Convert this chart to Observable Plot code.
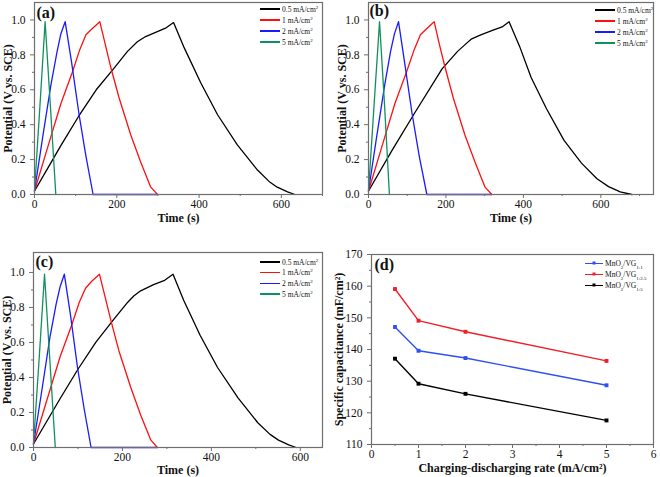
<!DOCTYPE html>
<html><head><meta charset="utf-8">
<script src="https://cdn.jsdelivr.net/npm/d3@7"></script>
<script src="https://cdn.jsdelivr.net/npm/@observablehq/plot@0.6"></script>
<style>
body{margin:0;background:#fff;}
#wrap{position:relative;width:660px;height:477px;overflow:hidden;font-family:'Liberation Serif',serif;}
.panel{position:absolute;}
.row{position:absolute;white-space:nowrap;display:flex;align-items:center;font-size:7.5px;color:#111;height:10px;}
.sw{display:inline-block;position:relative;height:1.4px;margin-right:2px;}
.sw i{position:absolute;width:3px;height:3px;left:50%;top:50%;transform:translate(-50%,-50%);}
sup,sub{font-size:5px;line-height:0;}
</style></head><body><div id="wrap"></div><script>
// ---- Data ----
const rates = ["0.5", "1", "2", "5"];
const gcdColors = ["#000000", "#ff1010", "#1a1aff", "#10905e"];

// Panel (a): [time (s), potential (V)]
const a_05 = [[0,0.02],[32,0.15],[64,0.28],[107,0.447],[150,0.60],[192,0.72],[226,0.82],[250,0.875],[270,0.905],[300,0.935],[320,0.955],[338,0.985],[364,0.84],[404,0.64],[445,0.457],[493,0.284],[542,0.14],[570,0.075],[590,0.042],[615,0.015],[633,0]];
const a_1 = [[0,0.02],[32,0.27],[64,0.52],[92,0.70],[110,0.83],[125,0.915],[140,0.95],[158.7,0.99],[172,0.86],[185.7,0.726],[205.7,0.553],[234,0.341],[258,0.186],[282.6,0.042],[299,0]];
const a_2 = [[0,0.02],[20,0.33],[40,0.63],[55,0.82],[64,0.92],[74.5,0.99],[90,0.76],[108.4,0.457],[125,0.22],[142.4,0],[299,0]];
const a_5 = [[0,0.02],[13,0.5],[25.8,0.99],[38,0.53],[51.8,0]];

// Panel (b)
const b_05 = [[0,0.02],[60,0.25],[120,0.47],[190,0.72],[230,0.82],[250,0.86],[265,0.89],[290,0.915],[320,0.94],[345,0.96],[363,0.99],[390,0.85],[420,0.67],[460,0.49],[505,0.31],[550,0.18],[590,0.09],[620,0.045],[650,0.015],[680,0]];
const b_1 = [[0,0.02],[34,0.27],[68,0.52],[98,0.70],[118,0.83],[134,0.915],[150,0.95],[169.6,0.99],[183,0.86],[198,0.726],[219,0.553],[249,0.341],[275,0.186],[301,0.042],[318.5,0]];
const b_2 = [[0,0.02],[21,0.33],[42,0.63],[57,0.82],[67,0.92],[77.5,0.99],[93,0.76],[113,0.457],[131,0.22],[150.7,0],[318,0]];
const b_5 = [[0,0.02],[14,0.5],[28.5,0.99],[41,0.53],[54,0]];

// Panel (c)
const c_05 = [[0,0.02],[60,0.28],[100,0.447],[140,0.60],[180,0.73],[212,0.83],[226,0.867],[241,0.895],[270,0.93],[295,0.955],[313.8,0.99],[338,0.84],[375,0.64],[414,0.457],[460,0.284],[505,0.14],[532,0.075],[551,0.042],[574,0.015],[590.7,0]];
const c_1 = [[0,0.02],[30,0.27],[60,0.52],[86,0.70],[103,0.83],[117,0.91],[131,0.95],[148.3,0.99],[161,0.86],[174,0.726],[192,0.553],[219,0.341],[241,0.186],[264,0.042],[278.5,0]];
const c_2 = [[0,0.02],[19,0.33],[37,0.63],[51,0.82],[60,0.92],[69.3,0.99],[83,0.76],[99,0.457],[114,0.22],[129.5,0],[278,0]];
const c_5 = [[0,0.02],[12.5,0.5],[24.8,0.99],[36,0.53],[49,0]];

// Panel (d)
const dRates = [0.5, 1, 2, 5];
const d_11 = [147.1, 139.6, 137.3, 128.7];
const d_125 = [159.1, 149.1, 145.6, 136.4];
const d_15 = [137.1, 129.2, 126.0, 117.6];
const dNames = ["1:1", "1:2.5", "1:5"];
const dColors = ["#3050f0", "#f0202a", "#000000"];

// Ticks
const timeTicks = [0, 200, 400, 600];
const vTicks = [0, 0.2, 0.4, 0.6, 0.8, 1.0];
const vMinor = [0.1, 0.3, 0.5, 0.7, 0.9];
const dXTicks = [0, 1, 2, 3, 4, 5, 6];
const dXMinor = [0.5, 1.5, 2.5, 3.5, 4.5, 5.5];
const dYTicks = [110, 120, 130, 140, 150, 160, 170];
const dYMinor = [115, 125, 135, 145, 155, 165];

// ---- Rendering ----
const wrap = document.getElementById("wrap");
const FONT = "'Liberation Serif', 'Times New Roman', serif";
const FRAME = "#6e6e6e";

function place(node, left, top) {
  const d = document.createElement("div");
  d.className = "panel";
  d.style.left = left + "px"; d.style.top = top + "px";
  d.appendChild(node);
  wrap.appendChild(d);
}

function legend(items, left, tops, lineW, withDot) {
  items.forEach((it, i) => {
    const r = document.createElement("div");
    r.className = "row";
    r.style.left = left + "px";
    r.style.top = (tops[i] - 5) + "px";
    const sw = document.createElement("span");
    sw.className = "sw";
    sw.style.width = lineW + "px";
    sw.style.background = it.color;
    if (withDot) { const dot = document.createElement("i"); dot.style.background = it.color; sw.appendChild(dot); }
    r.appendChild(sw);
    const t = document.createElement("span");
    t.innerHTML = it.html;
    r.appendChild(t);
    wrap.appendChild(r);
  });
}

function gcdPanel(cfg) {
  const rows = cfg.series.flatMap((s, i) => s.map(([t, v]) => ({t, v, rate: rates[i]})));
  const xMinor = d3.range(100, cfg.xmax + 1, 200);
  return Plot.plot({
    width: cfg.width, height: cfg.height,
    marginLeft: cfg.ml, marginRight: cfg.mr, marginTop: cfg.mt, marginBottom: cfg.mb,
    style: {fontFamily: FONT, fontSize: "12px", color: "#111", background: "transparent", overflow: "visible"},
    x: {domain: [0, cfg.xmax]},
    y: {domain: [0, cfg.ymax]},
    color: {domain: rates, range: gcdColors},
    marks: [
      Plot.line(rows, {x: "t", y: "v", z: "rate", stroke: "rate", strokeWidth: 1.3}),
      Plot.frame({stroke: FRAME, strokeWidth: 1.2}),
      Plot.axisX({ticks: timeTicks, tickSize: 4, tickPadding: 1.5, tickFormat: "d", label: null, fontSize: 11.5, stroke: FRAME}),
      Plot.axisX({ticks: xMinor, tickSize: 2, tickFormat: () => "", label: null, stroke: FRAME}),
      Plot.axisY({ticks: vTicks, tickSize: 4, tickFormat: ".1f", label: null, fontSize: 11.5, stroke: FRAME}),
      Plot.axisY({ticks: vMinor, tickSize: 2, tickFormat: () => "", label: null, stroke: FRAME}),
      Plot.text([cfg.tag], {frameAnchor: "top-left", dx: cfg.tagDx, dy: cfg.tagDy, lineAnchor: "top", fontSize: 16, fontWeight: "bold", fill: "#111"}),
      Plot.text(["Time (s)"], {frameAnchor: "bottom", dy: cfg.titleDy, lineAnchor: "middle", fontSize: 12, fontWeight: "bold", fill: "#111"}),
      Plot.text(["Potential (V vs. SCE)"], {frameAnchor: "left", textAnchor: "middle", lineAnchor: "middle", dx: -26.5, rotate: -90, fontSize: 12, fontWeight: "bold", fill: "#111"})
    ]
  });
}

place(gcdPanel({series: [a_05, a_1, a_2, a_5], xmax: 700, ymax: 1.1, width: 330, height: 237, ml: 34, mr: 8, mt: 2, mb: 43, tag: "(a)", tagDx: 2, tagDy: 4, titleDy: 23.5}), 0, 0);
place(gcdPanel({series: [b_05, b_1, b_2, b_5], xmax: 736, ymax: 1.1, width: 330, height: 237, ml: 38, mr: 7, mt: 2, mb: 43, tag: "(b)", tagDx: 1, tagDy: 2, titleDy: 23.5}), 330, 0);
place(gcdPanel({series: [c_05, c_1, c_2, c_5], xmax: 650, ymax: 1.114, width: 330, height: 240, ml: 33, mr: 8, mt: 15, mb: 30, tag: "(c)", tagDx: 2, tagDy: 3, titleDy: 22.5}), 0, 237);

const rateItems = rates.map((r, i) => ({color: gcdColors[i], html: r + " mA/cm<sup>2</sup>"}));
legend(rateItems, 260, [9, 20, 31, 42], 20, false);
legend(rateItems, 595, [10, 21, 32, 43], 20, false);
legend(rateItems, 260, [262, 272.5, 283.5, 294], 20, false);

// Panel (d)
const dSeries = [d_11, d_125, d_15];
const dRows = dSeries.flatMap((s, i) => s.map((c, j) => ({rate: dRates[j], c, name: dNames[i]})));
place(Plot.plot({
  width: 330, height: 240, marginLeft: 41, marginRight: 7, marginTop: 17, marginBottom: 33,
  style: {fontFamily: FONT, fontSize: "12px", color: "#111", background: "transparent", overflow: "visible"},
  x: {domain: [0, 6]},
  y: {domain: [110, 170]},
  color: {domain: dNames, range: dColors},
  marks: [
    Plot.line(dRows, {x: "rate", y: "c", z: "name", stroke: "name", strokeWidth: 1.4}),
    Plot.dot(dRows, {x: "rate", y: "c", fill: "name", symbol: "square", r: 2.2}),
    Plot.frame({stroke: FRAME, strokeWidth: 1.2}),
    Plot.axisX({ticks: dXTicks, tickSize: 4, tickPadding: 1.5, tickFormat: "d", label: null, fontSize: 11.5, stroke: FRAME}),
    Plot.axisX({ticks: dXMinor, tickSize: 2, tickFormat: () => "", label: null, stroke: FRAME}),
    Plot.axisY({ticks: dYTicks, tickSize: 4, tickFormat: "d", label: null, fontSize: 11.5, stroke: FRAME}),
    Plot.axisY({ticks: dYMinor, tickSize: 2, tickFormat: () => "", label: null, stroke: FRAME}),
    Plot.text(["(d)"], {frameAnchor: "top-left", dx: 3, dy: 4, lineAnchor: "top", fontSize: 16, fontWeight: "bold", fill: "#111"}),
    Plot.text(["Charging-discharging rate (mA/cm²)"], {frameAnchor: "bottom", dy: 24, lineAnchor: "middle", fontSize: 12, fontWeight: "bold", fill: "#111"}),
    Plot.text(["Specific capacitance (mF/cm²)"], {frameAnchor: "left", textAnchor: "middle", lineAnchor: "middle", dx: -32.5, rotate: -90, fontSize: 12, fontWeight: "bold", fill: "#111"})
  ]
}), 330, 237);

legend(dNames.map((n, i) => ({color: dColors[i], html: "MnO<sub>2</sub>/VG<sub>" + n + "</sub>"})), 585, [263.5, 274.5, 285.5], 18, true);
</script></body></html>
